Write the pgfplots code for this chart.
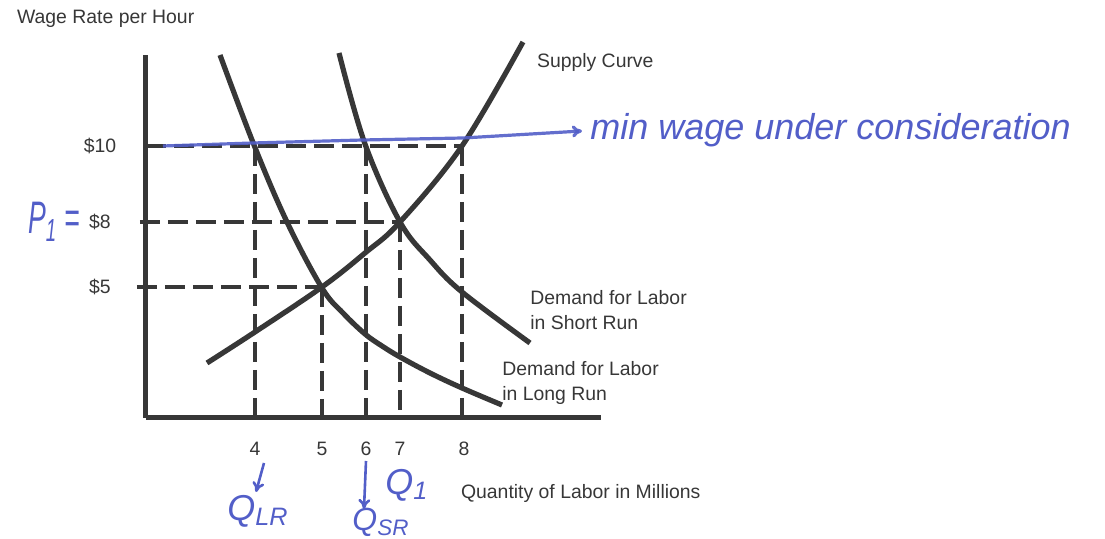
\documentclass[border=0pt]{standalone}
\usepackage{fontspec}
\setmainfont{Liberation Sans}
\usepackage{pgfplots}
\pgfplotsset{compat=1.18}
\usetikzlibrary{arrows.meta}

\definecolor{ink}{RGB}{55,55,55}
\definecolor{pen}{RGB}{82,94,200}

\newcommand{\lbl}{\fontsize{9.7}{12.2}\selectfont}
\newcommand{\hand}[1]{\fontsize{#1}{#1}\selectfont\itshape}

\begin{document}
\begin{tikzpicture}
\begin{axis}[
  scale only axis,
  width=227.5pt, height=181.5pt,
  xmin=146, xmax=601, ymin=121, ymax=484,
  axis lines=left,
  axis line style={ink, line width=2.5pt, -},
  xtick={255,322,366,400,464}, xticklabels={4,5,6,7,8},
  ytick={393,317,252}, yticklabels={\$10,\$8,\$5},
  major tick length=0pt,
  xticklabel style={anchor=center, yshift=-15.5pt},
  yticklabel style={anchor=center, xshift=-23pt},
  tick label style={font=\lbl, text=ink},
  clip=false,
]
% guide lines for wages and quantities
\pgfplotsset{guide/.style={ink, line width=2pt, dash pattern=on 10pt off 4pt}}
\addplot[guide] coordinates {(146,393) (463,393)};
\addplot[guide] coordinates {(140,317) (400,317)};
\addplot[guide] coordinates {(137,252) (322,252)};
\addplot[guide] coordinates {(255,393) (255,121)};
\addplot[guide] coordinates {(322,252) (322,121)};
\addplot[guide] coordinates {(366,393) (366,114)};
\addplot[guide] coordinates {(400,317) (400,121)};
\addplot[guide] coordinates {(462,393) (462,121)};

% long-run demand
\addplot[ink, line width=2.6pt, smooth, tension=0.6] coordinates
  {(220,484) (254,394) (287,317) (322,251) (343,226) (365,205) (382,193)
   (400,182) (430,166) (462,151) (502,134)};
% short-run demand
\addplot[ink, line width=2.6pt, smooth, tension=0.6] coordinates
  {(339,486) (365,395) (400,317) (430,279) (462,247) (530,196)};
% supply
\addplot[ink, line width=2.6pt, smooth, tension=0.6] coordinates
  {(207,176) (255,207) (322,252) (365,286) (400,317) (462,393) (523,497)};

% hand-drawn minimum wage line
\addplot[pen, line width=1.6pt, opacity=0.9, -{To[length=5pt,width=6pt]}] coordinates
  {(163,393) (253,396) (363,399) (463,401) (582,408)};
\addplot[pen, line width=1.3pt, -{To[length=5pt,width=6pt]}] coordinates {(264,76) (256,47)};
\addplot[pen, line width=1.3pt, -{To[length=5pt,width=6pt]}] coordinates {(366,78) (364,30)};

% printed labels
\node[anchor=west, font=\lbl, text=ink] at (axis cs:10,520) {Wage Rate per Hour};
\node[anchor=west, font=\lbl, text=ink] at (axis cs:530,477) {Supply Curve};
\node[anchor=west, font=\lbl, text=ink, align=left, inner sep=0pt] at (axis cs:530,229)
  {Demand for Labor\\in Short Run};
\node[anchor=west, font=\lbl, text=ink, align=left, inner sep=0pt] at (axis cs:502,156)
  {Demand for Labor\\in Long Run};
\node[anchor=west, font=\lbl, text=ink] at (axis cs:454,46) {Quantity of Labor in Millions};

% handwritten notes
\node[anchor=base west, text=pen, font=\hand{18}, inner sep=0pt] at (axis cs:590,399)
  {min wage under consideration};
\node[text=pen, font=\hand{19}] at (axis cs:54,317) {\scalebox{0.7}[1.2]{P\textsubscript{1} =}};
\node[text=pen, font=\hand{18}] at (axis cs:258,28) {Q\textsubscript{LR}};
\node[text=pen, font=\hand{16}, inner sep=1pt] at (axis cs:381,17) {Q\textsubscript{SR}};
\node[text=pen, font=\hand{18}] at (axis cs:407,54) {Q\textsubscript{1}};

\coordinate (BL) at (axis cs:0,0);
\coordinate (TR) at (axis cs:1105,539);
\end{axis}
\pgfresetboundingbox
\path (BL) rectangle (TR);
\end{tikzpicture}
\end{document}
